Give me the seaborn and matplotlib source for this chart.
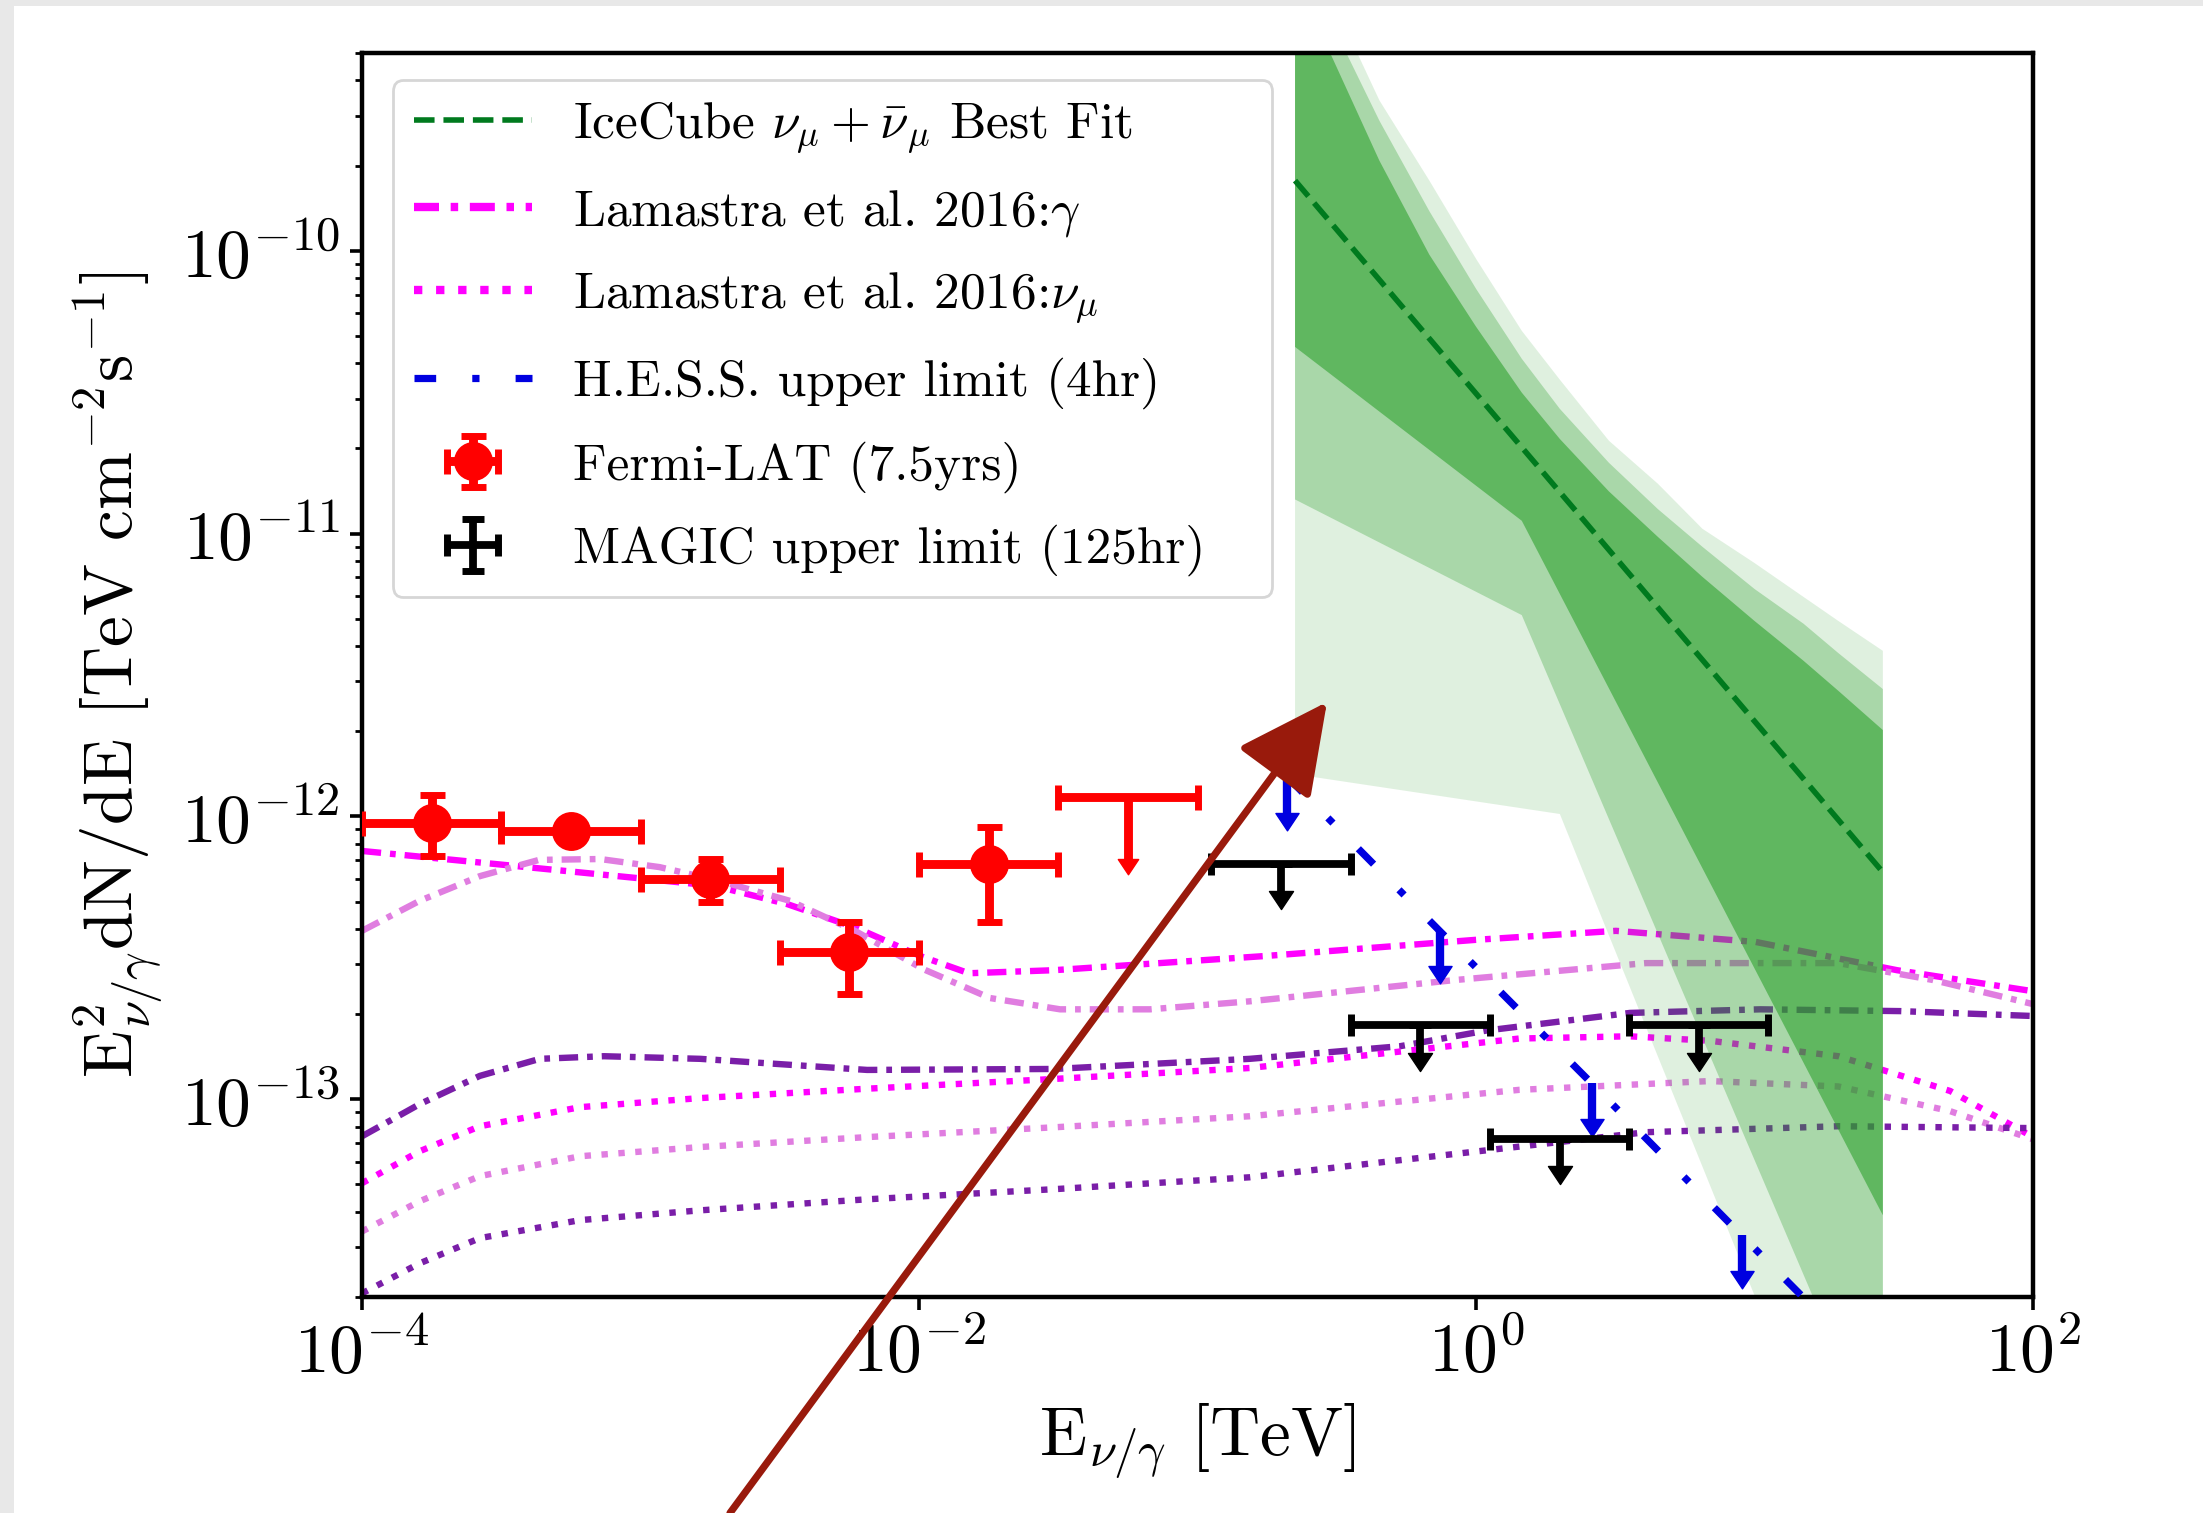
import numpy as np
import pandas as pd
import matplotlib
matplotlib.use("Agg")
import matplotlib.pyplot as plt
from matplotlib.patches import Rectangle, FancyArrowPatch
from matplotlib.path import Path
from matplotlib.lines import CARETDOWNBASE
from matplotlib.ticker import FixedLocator, LogLocator, NullLocator, LogFormatterSciNotation, NullFormatter
import seaborn as sns

# ---------------- data (E in TeV, E^2 dN/dE in TeV cm^-2 s^-1) ----------------
# Fermi-LAT (7.5 yrs) spectral points
fermi_E = [1.78e-4, 5.62e-4, 1.78e-3, 5.62e-3, 1.78e-2]
fermi_E_lo = [1.0e-4, 3.16e-4, 1.0e-3, 3.16e-3, 1.0e-2]
fermi_E_hi = [3.16e-4, 1.0e-3, 3.16e-3, 1.0e-2, 3.16e-2]
fermi_F = [9.48e-13, 8.88e-13, 6.01e-13, 3.31e-13, 6.79e-13]
fermi_F_lo = [7.25e-13, 8.30e-13, 4.98e-13, 2.36e-13, 4.23e-13]
fermi_F_hi = [1.19e-12, 9.45e-13, 7.05e-13, 4.23e-13, 9.18e-13]

# Fermi-LAT upper limit in the highest bin
fermi_ul_E = [5.62e-2]
fermi_ul_E_lo = [3.16e-2]
fermi_ul_E_hi = [1.0e-1]
fermi_ul_F = [1.17e-12]
fermi_ul_F_end = [7.06e-13]

# MAGIC upper limits (125 hr)
magic_E = [0.20, 0.63, 2.0, 6.3]
magic_E_lo = [0.112, 0.355, 1.12, 3.55]
magic_E_hi = [0.355, 1.12, 3.55, 11.2]
magic_F = [6.8e-13, 1.83e-13, 7.22e-14, 1.83e-13]
magic_F_end = [5.45e-13, 1.46e-13, 5.8e-14, 1.46e-13]

# H.E.S.S. upper limits (4 hr)
hess_E = [0.21, 0.74, 2.6, 9.0, 31.6]
hess_F = [1.38e-12, 3.94e-13, 1.14e-13, 3.30e-14, 9.5e-15]
hess_F_end = [1.03e-12, 2.95e-13, 8.55e-14, 2.47e-14, 7.1e-15]

# IceCube nu_mu + anti-nu_mu best-fit power law
ic_fit_E = [0.224, 28.9]
ic_fit_F = [1.77e-10, 6.35e-13]

# IceCube confidence bands: upper envelopes share one energy grid
ic_band_E = [0.224, 0.3, 0.45, 0.68, 1.0, 1.46, 2.0, 3.0, 4.5, 6.5, 10.0, 15.0, 20.0, 28.9]
ic_1s_upper = [9.77e-10, 4.98e-10, 2.08e-10, 9.68e-11, 5.39e-11, 3.15e-11, 2.16e-11,
               1.41e-11, 9.73e-12, 7.03e-12, 4.91e-12, 3.55e-12, 2.78e-12, 2.02e-12]
ic_2s_upper = [1.25e-9, 6.52e-10, 2.88e-10, 1.38e-10, 7.34e-11, 4.15e-11, 2.76e-11,
               1.78e-11, 1.22e-11, 8.98e-12, 6.37e-12, 4.80e-12, 3.78e-12, 2.82e-12]
ic_3s_upper = [1.60e-9, 7.98e-10, 3.40e-10, 1.77e-10, 9.37e-11, 5.21e-11, 3.50e-11,
               2.13e-11, 1.50e-11, 1.04e-11, 7.87e-12, 5.97e-12, 4.91e-12, 3.85e-12]
ic_1s_lower_E = [0.224, 1.46, 28.9]
ic_1s_lower = [4.57e-11, 1.11e-11, 3.89e-14]
ic_2s_lower_E = [0.224, 1.46, 28.9]
ic_2s_lower = [1.32e-11, 5.15e-12, 5.29e-15]
ic_3s_lower_E = [0.224, 2.0, 28.9]
ic_3s_lower = [1.41e-12, 1.02e-12, 1.53e-15]

# Lamastra et al. 2016 model curves: gamma rays
lam_g1_E = [1e-4, 3.29e-4, 1.05e-3, 1.85e-3, 3.36e-3, 5.98e-3, 1.01e-2, 1.51e-2, 3.05e-2,
            0.175, 0.99, 3.18, 10.1, 32.5, 100.0]
lam_g1_F = [7.55e-13, 6.73e-13, 6.01e-13, 5.68e-13, 4.90e-13, 4.03e-13, 3.21e-13, 2.79e-13,
            2.86e-13, 3.21e-13, 3.66e-13, 3.94e-13, 3.60e-13, 2.86e-13, 2.41e-13]
lam_g2_E = [1e-4, 1.61e-4, 2.65e-4, 4.32e-4, 7.16e-4, 1.17e-3, 1.93e-3, 3.44e-3, 5.89e-3,
            1.04e-2, 1.80e-2, 3.21e-2, 6.75e-2, 0.154, 0.841, 4.08, 20.0, 43.8, 100.0]
lam_g2_F = [3.94e-13, 5.03e-13, 6.15e-13, 7.02e-13, 7.07e-13, 6.62e-13, 5.91e-13, 5.03e-13,
            3.94e-13, 2.88e-13, 2.28e-13, 2.08e-13, 2.08e-13, 2.22e-13, 2.64e-13, 3.03e-13,
            3.03e-13, 2.64e-13, 2.17e-13]
lam_g3_E = [1e-4, 1.61e-4, 2.65e-4, 4.35e-4, 7.39e-4, 1.64e-3, 6.51e-3, 3.05e-2, 0.154,
            0.533, 1.09, 3.57, 10.5, 33.3, 100.0]
lam_g3_F = [7.40e-14, 9.61e-14, 1.21e-13, 1.39e-13, 1.42e-13, 1.39e-13, 1.27e-13, 1.28e-13,
            1.39e-13, 1.54e-13, 1.75e-13, 2.02e-13, 2.08e-13, 2.05e-13, 1.97e-13]

# Lamastra et al. 2016 model curves: muon neutrinos
lam_n1_E = [1e-4, 1.61e-4, 2.65e-4, 6.07e-4, 1.64e-3, 6.51e-3, 3.05e-2, 0.154, 1.43, 3.57,
            6.92, 20.0, 50.4, 100.0]
lam_n1_F = [5.05e-14, 6.55e-14, 8.03e-14, 9.38e-14, 1.01e-13, 1.09e-13, 1.18e-13, 1.29e-13,
            1.64e-13, 1.67e-13, 1.61e-13, 1.42e-13, 1.07e-13, 7.35e-14]
lam_n2_E = [1e-4, 1.61e-4, 2.65e-4, 6.07e-4, 1.64e-3, 6.51e-3, 3.05e-2, 0.154, 1.43, 6.92,
            20.0, 50.4, 100.0]
lam_n2_F = [3.41e-14, 4.36e-14, 5.35e-14, 6.29e-14, 6.78e-14, 7.35e-14, 7.96e-14, 8.71e-14,
            1.08e-13, 1.16e-13, 1.11e-13, 9.08e-14, 7.22e-14]
lam_n3_E = [1e-4, 1.61e-4, 2.65e-4, 6.07e-4, 1.64e-3, 6.51e-3, 3.05e-2, 0.154, 1.09, 4.08,
            20.0, 100.0]
lam_n3_F = [2.06e-14, 2.63e-14, 3.23e-14, 3.74e-14, 4.05e-14, 4.43e-14, 4.81e-14, 5.30e-14,
            6.60e-14, 7.65e-14, 8.03e-14, 7.91e-14]

# ---------------- style ----------------
sns.set_theme(style="ticks")
plt.rcParams.update({
    "font.family": "serif",
    "font.serif": ["cmr10", "DejaVu Serif"],
    "mathtext.fontset": "cm",
    "axes.unicode_minus": False,
    "axes.formatter.use_mathtext": True,
    "axes.edgecolor": "black",
    "axes.linewidth": 1.6,
    "xtick.color": "black",
    "ytick.color": "black",
    "text.color": "black",
    "axes.labelcolor": "black",
})

W, H, DPI = 2203, 1513, 200
fig = plt.figure(figsize=(W / DPI, H / DPI), dpi=DPI)
fig.patch.set_facecolor("white")

ax = fig.add_axes([362 / W, 1 - 1297 / H, (2033 - 362) / W, (1297 - 53) / H])
ax.set_xscale("log")
ax.set_yscale("log")
ax.set_xlim(1e-4, 1e2)
ax.set_ylim(2e-14, 5e-10)

magenta = "#ff00ff"
pale = "#e07de0"
purple = "#7a1ea8"
gamma_ls = (0, (3.0, 1.4, 0.9, 1.4))

# model curves
curves = [
    (lam_g1_E, lam_g1_F, magenta, gamma_ls),
    (lam_g2_E, lam_g2_F, pale, gamma_ls),
    (lam_g3_E, lam_g3_F, purple, gamma_ls),
    (lam_n1_E, lam_n1_F, magenta, ":"),
    (lam_n2_E, lam_n2_F, pale, ":"),
    (lam_n3_E, lam_n3_F, purple, ":"),
]
for E, F, col, ls in curves:
    df = pd.DataFrame({"E": E, "F": F})
    sns.lineplot(data=df, x="E", y="F", ax=ax, color=col, lw=2.3, linestyle=ls,
                 sort=False, errorbar=None, zorder=1)

# IceCube bands (layered translucent fills)
green = "#2ca02c"
for upE, upF, loE, loF, a in [
    (ic_band_E, ic_3s_upper, ic_3s_lower_E, ic_3s_lower, 0.15),
    (ic_band_E, ic_2s_upper, ic_2s_lower_E, ic_2s_lower, 0.30),
    (ic_band_E, ic_1s_upper, ic_1s_lower_E, ic_1s_lower, 0.58),
]:
    px = list(upE) + list(loE)[::-1]
    py = list(upF) + list(loF)[::-1]
    ax.fill(px, py, color=green, alpha=a, lw=0, zorder=2)

ic_line, = ax.plot(ic_fit_E, ic_fit_F, color="#007a1e", lw=2.0, ls="--", zorder=3)

# filled arrow head whose base sits on the end of the limit bar
arrow_head = Path([(-1.0, 0.0), (1.0, 0.0), (0.0, -1.5), (-1.0, 0.0)],
                  [Path.MOVETO, Path.LINETO, Path.LINETO, Path.CLOSEPOLY])


def style_limits(container, color, head_size, hide_top_cap=False):
    for cl in container[1]:
        m = cl.get_marker()
        if isinstance(m, (int, np.integer)) and m == CARETDOWNBASE:
            cl.set_marker(arrow_head)
            cl.set_markersize(head_size)
            cl.set_markerfacecolor(color)
            cl.set_markeredgecolor(color)
            cl.set_markeredgewidth(0.5)
        elif hide_top_cap and m == "_":
            cl.set_visible(False)


# H.E.S.S.
hess_line, = ax.plot(hess_E, hess_F, color="#0000e0", lw=2.6,
                     linestyle=(0, (3.0, 5.0, 1.0, 5.0)), zorder=4)
hess_F_arr = np.array(hess_F)
hess_cont = ax.errorbar(hess_E, hess_F, yerr=hess_F_arr - np.array(hess_F_end), uplims=True,
                        fmt="none", ecolor="#0000e0", elinewidth=3.0, capsize=4, capthick=3.0,
                        zorder=4)
style_limits(hess_cont, "#0000e0", 12.5, hide_top_cap=True)

# MAGIC
mE = np.array(magic_E)
mF = np.array(magic_F)
magic_cont = ax.errorbar(mE, mF, xerr=[mE - np.array(magic_E_lo), np.array(magic_E_hi) - mE],
                         yerr=mF - np.array(magic_F_end), uplims=True, fmt="none",
                         ecolor="black", elinewidth=2.8, capsize=4, capthick=2.5, zorder=5)
style_limits(magic_cont, "black", 13)

# Fermi-LAT
fE = np.array(fermi_E)
fF = np.array(fermi_F)
fermi_cont = ax.errorbar(fE, fF,
                         xerr=[fE - np.array(fermi_E_lo), np.array(fermi_E_hi) - fE],
                         yerr=[fF - np.array(fermi_F_lo), np.array(fermi_F_hi) - fF],
                         fmt="o", color="red", ms=13, elinewidth=3.2, capsize=4.5,
                         capthick=2.5, zorder=6)
uE = np.array(fermi_ul_E)
uF = np.array(fermi_ul_F)
ul_cont = ax.errorbar(uE, uF, xerr=[uE - np.array(fermi_ul_E_lo), np.array(fermi_ul_E_hi) - uE],
                      yerr=uF - np.array(fermi_ul_F_end), uplims=True, fmt="none", ecolor="red",
                      elinewidth=3.2, capsize=4.5, capthick=2.5, zorder=6)
style_limits(ul_cont, "red", 11)

# ---------------- axes cosmetics ----------------
ax.xaxis.set_major_locator(FixedLocator([1e-4, 1e-2, 1e0, 1e2]))
ax.xaxis.set_major_formatter(LogFormatterSciNotation())
ax.xaxis.set_minor_locator(NullLocator())
ax.yaxis.set_major_locator(LogLocator(base=10, numticks=20))
ax.yaxis.set_minor_locator(LogLocator(base=10, subs=np.arange(2, 10), numticks=20))
ax.yaxis.set_minor_formatter(NullFormatter())
ax.tick_params(axis="both", which="major", labelsize=25, length=4.5, width=1.3, direction="out")
ax.tick_params(axis="y", which="minor", length=2.6, width=1.0, direction="out")

ax.set_xlabel(r"E$_{\nu/\gamma}$ [TeV]", fontsize=25, labelpad=6)
ax.set_ylabel(r"E$^2_{\nu/\gamma}$dN/dE [TeV cm$^{-2}$s$^{-1}$]", fontsize=25, labelpad=6)

# legend
gamma_handle = plt.Line2D([], [], color=magenta, lw=3.0, linestyle=gamma_ls)
nu_handle = plt.Line2D([], [], color=magenta, lw=3.0, linestyle=":")
handles = [ic_line, gamma_handle, nu_handle, hess_line, fermi_cont, magic_cont]
labels = [r"IceCube $\nu_\mu + \bar{\nu}_\mu$ Best Fit",
          r"Lamastra et al. 2016:$\gamma$",
          r"Lamastra et al. 2016:$\nu_\mu$",
          "H.E.S.S. upper limit (4hr)",
          "Fermi-LAT (7.5yrs)",
          "MAGIC upper limit (125hr)"]
leg = ax.legend(handles, labels, loc="upper left",
                bbox_to_anchor=(0.0186, 0.0, 0.526, 0.978), mode="expand",
                borderaxespad=0, fontsize=18.5, frameon=True, fancybox=True,
                framealpha=0.8, edgecolor="0.8", handlelength=2.3, labelspacing=0.62)
leg.set_zorder(10)

# grey margin strips along the top and left edges
fig.add_artist(Rectangle((0, 1 - 6 / H), 1, 6 / H, transform=fig.transFigure,
                         color="#e8e8e8", lw=0, zorder=0))
fig.add_artist(Rectangle((0, 0), 14 / W, 1, transform=fig.transFigure,
                         color="#e8e8e8", lw=0, zorder=0))

# hand-drawn style pointer arrow
arrow = FancyArrowPatch(posA=(730 / W, 0.0), posB=(1327 / W, 1 - 702 / H),
                        transform=fig.transFigure, arrowstyle="-|>,head_length=28,head_width=14",
                        mutation_scale=1, color="#991a0c", lw=2.6, shrinkA=0, shrinkB=0,
                        zorder=20)
fig.add_artist(arrow)

fig.savefig("out.png", dpi=DPI)
